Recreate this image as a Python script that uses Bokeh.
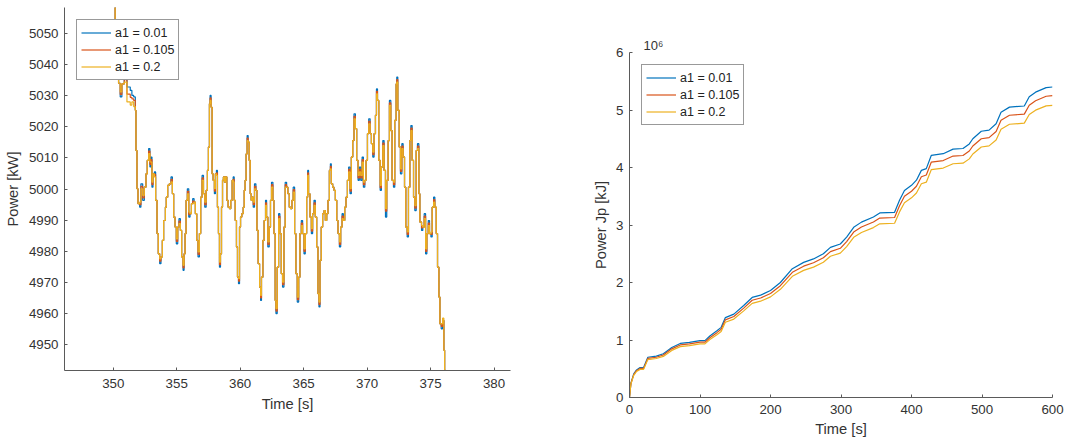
from bokeh.plotting import figure
from bokeh.layouts import row, column
from bokeh.models import Range1d, FixedTicker, Legend, LegendItem, Title
from bokeh.embed import file_html
from bokeh.resources import INLINE

# ---------------- Left panel: Power [kW] vs Time [s] ----------------
time_s = [
    350.05, 350.15, 350.30, 350.42, 350.55, 350.68, 350.87, 351.08, 351.34, 351.47,
    351.61, 351.74, 351.79, 351.87, 351.95, 352.08, 352.18, 352.32, 352.45, 352.58,
    352.68, 352.79, 352.89, 352.97, 353.05, 353.13, 353.24, 353.34, 353.45, 353.55,
    353.66, 353.76, 353.87, 353.97, 354.11, 354.18, 354.29, 354.42, 354.55, 354.66,
    354.76, 354.87, 354.97, 355.08, 355.18, 355.29, 355.39, 355.50, 355.58, 355.66,
    355.74, 355.84, 355.95, 356.05, 356.16, 356.26, 356.37, 356.47, 356.58, 356.68,
    356.79, 356.89, 357.00, 357.11, 357.21, 357.32, 357.42, 357.50, 357.58, 357.63,
    357.71, 357.79, 357.87, 357.97, 358.05, 358.13, 358.21, 358.29, 358.37, 358.45,
    358.53, 358.61, 358.68, 358.76, 358.84, 358.95, 359.05, 359.16, 359.26, 359.37,
    359.45, 359.53, 359.61, 359.71, 359.79, 359.87, 359.95, 360.03, 360.13, 360.24,
    360.32, 360.39, 360.47, 360.55, 360.63, 360.71, 360.79, 360.87, 360.95, 361.03,
    361.13, 361.24, 361.32, 361.42, 361.53, 361.61, 361.68, 361.79, 361.89, 362.00,
    362.08, 362.18, 362.29, 362.39, 362.47, 362.58, 362.66, 362.76, 362.82, 362.92,
    363.03, 363.13, 363.24, 363.34, 363.45, 363.55, 363.66, 363.76, 363.87, 363.97,
    364.08, 364.18, 364.29, 364.39, 364.50, 364.61, 364.71, 364.82, 364.92, 365.03,
    365.13, 365.24, 365.32, 365.39, 365.50, 365.61, 365.71, 365.82, 365.92, 366.03,
    366.13, 366.21, 366.29, 366.39, 366.50, 366.61, 366.71, 366.82, 366.92, 367.03,
    367.11, 367.18, 367.29, 367.39, 367.50, 367.61, 367.71, 367.82, 367.92, 368.03,
    368.13, 368.24, 368.34, 368.45, 368.55, 368.66, 368.76, 368.87, 368.97, 369.08,
    369.18, 369.29, 369.39, 369.50, 369.61, 369.71, 369.82, 369.92, 370.03, 370.13,
    370.24, 370.34, 370.45, 370.55, 370.66, 370.74, 370.82, 370.92, 371.03, 371.13,
    371.24, 371.34, 371.45, 371.55, 371.66, 371.76, 371.87, 371.97, 372.08, 372.18,
    372.29, 372.34, 372.42, 372.53, 372.63, 372.74, 372.84, 372.95, 373.05, 373.16,
    373.26, 373.37, 373.45, 373.55, 373.66, 373.76, 373.87, 373.97, 374.08, 374.16,
    374.29, 374.39, 374.50, 374.61, 374.71, 374.82, 374.92, 375.03, 375.13, 375.24,
    375.34, 375.45, 375.55, 375.66, 375.74, 375.84, 375.95, 376.05, 376.11, 376.15,
]

power_a1_001 = [
    5075, 5046, 5040, 5034, 5029.6, 5033.8, 5036.0, 5032.8, 5031.7, 5030.1,
    5029.6, 5025.3, 5012.4, 5000.1, 4995.3, 4994.2, 5001.7, 4996.4, 5000.6, 5004.9,
    5009.2, 5013.0, 5007.1, 5010.3, 5000.6, 5004.9, 5005.5, 4996.4, 4985.7, 4979.2,
    4976.0, 4978.2, 4983.5, 4989.9, 4994.2, 4997.4, 5001.2, 5001.7, 5003.9, 4998.5,
    4991.0, 4987.8, 4982.4, 4987.8, 4990.5, 4986.7, 4978.2, 4973.9, 4979.2, 4985.7,
    4996.4, 5000.1, 4991.0, 4992.1, 4995.3, 4996.9, 4995.8, 4992.1, 4983.5, 4978.2,
    4985.7, 4997.4, 5004.4, 4998.5, 4994.2, 4999.6, 5006.0, 5013.5, 5027.4, 5030.1,
    5026.3, 5004.9, 5002.8, 4998.5, 5004.9, 5006.0, 4994.2, 4985.7, 4974.9, 4979.2,
    4994.2, 5002.8, 5003.9, 5002.2, 5003.9, 4996.4, 4994.2, 4993.7, 4996.4, 5002.8,
    5003.9, 4996.4, 4989.9, 4981.4, 4971.7, 4969.6, 4987.8, 4991.0, 4992.1, 4994.2,
    4999.6, 5002.8, 5011.3, 5017.2, 5015.1, 5009.2, 4998.5, 4996.4, 4997.4, 4994.2,
    5001.7, 4999.6, 4986.7, 4976.0, 4968.5, 4964.2, 4971.7, 4983.5, 4989.9, 4996.4,
    4991.0, 4981.4, 4987.8, 4996.4, 5002.2, 4996.4, 4985.7, 4964.2, 4960.0, 4974.9,
    4992.1, 4985.7, 4972.8, 4968.5, 4987.8, 5002.2, 5000.6, 4998.5, 4994.2, 4993.7,
    4996.4, 5000.6, 4985.7, 4972.8, 4963.7, 4971.7, 4985.7, 4989.9, 4985.7, 4979.2,
    4985.7, 4997.4, 5006.0, 4998.5, 4991.0, 4985.7, 4992.1, 4996.4, 4991.0, 4981.4,
    4966.4, 4962.1, 4977.1, 4987.8, 4992.1, 4993.1, 4989.9, 4992.1, 4996.4, 5006.0,
    5008.1, 5001.7, 5000.6, 4999.6, 4996.4, 4989.9, 4985.7, 4981.4, 4987.8, 4992.1,
    4989.9, 4994.2, 4997.4, 5002.8, 5007.1, 4998.5, 5010.3, 5015.6, 5024.2, 5019.4,
    5009.2, 5002.8, 5007.1, 5002.8, 5010.3, 5000.6, 5002.8, 5009.2, 5017.8, 5022.6,
    5017.8, 5014.6, 5010.3, 5017.8, 5023.7, 5032.2, 5028.5, 5009.2, 4999.6, 5007.1,
    5015.6, 5006.0, 4991.0, 5002.8, 5015.6, 5028.5, 5018.8, 5002.8, 5000.6, 5022.1,
    5033.8, 5036.0, 5025.3, 5013.5, 5004.9, 5014.6, 5010.3, 5000.6, 4987.8, 4984.6,
    5000.6, 5015.6, 5020.4, 5009.2, 4997.4, 4993.1, 5012.4, 5014.6, 4998.5, 4989.4,
    4986.7, 4987.8, 4992.1, 4979.2, 4985.7, 4989.9, 4985.7, 4984.6, 4994.2, 4997.4,
    4994.2, 4985.7, 4974.9, 4965.3, 4956.7, 4955.1, 4957.8, 4948.2, 4941.8, 4930,
]

power_a1_0105 = [
    5075, 5046, 5040, 5034, 5030.4, 5033.8, 5035.2, 5030.5, 5029.5, 5029.0,
    5028.5, 5025.3, 5012.4, 5000.1, 4995.3, 4995.0, 5000.9, 4997.2, 5000.6, 5004.9,
    5009.2, 5012.2, 5007.9, 5009.5, 5001.4, 5004.9, 5004.7, 4996.4, 4985.7, 4979.2,
    4976.8, 4978.2, 4983.5, 4989.9, 4994.2, 4997.4, 5001.2, 5001.7, 5003.1, 4998.5,
    4991.0, 4987.8, 4983.2, 4987.8, 4989.7, 4986.7, 4978.2, 4974.7, 4979.2, 4985.7,
    4996.4, 4999.3, 4991.8, 4992.1, 4995.3, 4996.1, 4995.8, 4992.1, 4983.5, 4979.0,
    4985.7, 4997.4, 5003.6, 4998.5, 4995.0, 4999.6, 5006.0, 5013.5, 5027.4, 5029.3,
    5026.3, 5004.9, 5002.8, 4999.3, 5004.9, 5005.2, 4994.2, 4985.7, 4975.7, 4979.2,
    4994.2, 5002.8, 5003.9, 5002.2, 5003.9, 4996.4, 4994.2, 4993.7, 4996.4, 5002.8,
    5003.1, 4996.4, 4989.9, 4981.4, 4971.7, 4970.4, 4987.8, 4991.0, 4992.1, 4994.2,
    4999.6, 5002.8, 5011.3, 5016.4, 5015.1, 5009.2, 4998.5, 4996.4, 4997.4, 4995.0,
    5000.9, 4999.6, 4986.7, 4976.0, 4968.5, 4965.0, 4971.7, 4983.5, 4989.9, 4995.6,
    4991.0, 4982.2, 4987.8, 4996.4, 5001.4, 4996.4, 4985.7, 4964.2, 4960.8, 4974.9,
    4991.3, 4985.7, 4972.8, 4969.3, 4987.8, 5001.4, 5000.6, 4998.5, 4994.2, 4993.7,
    4996.4, 4999.8, 4985.7, 4972.8, 4964.5, 4971.7, 4985.7, 4989.1, 4985.7, 4980.0,
    4985.7, 4997.4, 5005.2, 4998.5, 4991.0, 4986.5, 4992.1, 4995.6, 4991.0, 4981.4,
    4966.4, 4962.9, 4977.1, 4987.8, 4992.1, 4993.1, 4989.9, 4992.1, 4996.4, 5006.0,
    5007.3, 5001.7, 5000.6, 4999.6, 4996.4, 4989.9, 4985.7, 4982.2, 4987.8, 4991.3,
    4989.9, 4994.2, 4997.4, 5002.8, 5006.3, 4999.3, 5010.3, 5015.6, 5023.4, 5019.4,
    5009.2, 5003.6, 5006.3, 5003.6, 5009.5, 5001.4, 5002.8, 5009.2, 5017.8, 5021.8,
    5017.8, 5014.6, 5011.1, 5017.8, 5023.7, 5031.4, 5028.5, 5009.2, 5000.4, 5007.1,
    5014.8, 5006.0, 4992.9, 5002.8, 5015.6, 5027.7, 5018.8, 5002.8, 5001.4, 5022.1,
    5033.8, 5035.2, 5025.3, 5013.5, 5005.7, 5013.8, 5010.3, 5000.6, 4987.8, 4985.4,
    5000.6, 5015.6, 5019.6, 5009.2, 4997.4, 4993.9, 5012.4, 5013.8, 4998.5, 4989.4,
    4987.5, 4987.8, 4991.3, 4980.0, 4985.7, 4989.1, 4985.7, 4985.4, 4994.2, 4996.6,
    4994.2, 4985.7, 4974.9, 4965.3, 4956.7, 4955.9, 4957.8, 4948.2, 4941.8, 4930,
]

power_a1_02 = [
    5075, 5046, 5040, 5034, 5031.2, 5033.8, 5034.4, 5028.0, 5027.0, 5028.0,
    5026.5, 5025.3, 5012.4, 5000.1, 4995.3, 4995.8, 5000.1, 4998.0, 5000.6, 5004.9,
    5009.2, 5011.4, 5008.7, 5008.7, 5002.2, 5004.9, 5003.9, 4996.4, 4985.7, 4979.2,
    4977.6, 4978.2, 4983.5, 4989.9, 4994.2, 4997.4, 5001.2, 5001.7, 5002.3, 4998.5,
    4991.0, 4987.8, 4984.0, 4987.8, 4988.9, 4986.7, 4978.2, 4975.5, 4979.2, 4985.7,
    4996.4, 4998.5, 4992.6, 4992.1, 4995.3, 4995.3, 4995.8, 4992.1, 4983.5, 4979.8,
    4985.7, 4997.4, 5002.8, 4998.5, 4995.8, 4999.6, 5006.0, 5013.5, 5027.4, 5028.5,
    5026.3, 5004.9, 5002.8, 5000.1, 5004.9, 5004.4, 4994.2, 4985.7, 4976.5, 4979.2,
    4994.2, 5002.8, 5003.9, 5002.2, 5003.9, 4996.4, 4994.2, 4993.7, 4996.4, 5002.8,
    5002.3, 4996.4, 4989.9, 4981.4, 4971.7, 4971.2, 4987.8, 4991.0, 4992.1, 4994.2,
    4999.6, 5002.8, 5011.3, 5015.6, 5015.1, 5009.2, 4998.5, 4996.4, 4997.4, 4995.8,
    5000.1, 4999.6, 4986.7, 4976.0, 4968.5, 4965.8, 4971.7, 4983.5, 4989.9, 4994.8,
    4991.0, 4983.0, 4987.8, 4996.4, 5000.6, 4996.4, 4985.7, 4964.2, 4961.6, 4974.9,
    4990.5, 4985.7, 4972.8, 4970.1, 4987.8, 5000.6, 5000.6, 4998.5, 4994.2, 4993.7,
    4996.4, 4999.0, 4985.7, 4972.8, 4965.3, 4971.7, 4985.7, 4988.3, 4985.7, 4980.8,
    4985.7, 4997.4, 5004.4, 4998.5, 4991.0, 4987.3, 4992.1, 4994.8, 4991.0, 4981.4,
    4966.4, 4963.7, 4977.1, 4987.8, 4992.1, 4993.1, 4989.9, 4992.1, 4996.4, 5006.0,
    5006.5, 5001.7, 5000.6, 4999.6, 4996.4, 4989.9, 4985.7, 4983.0, 4987.8, 4990.5,
    4989.9, 4994.2, 4997.4, 5002.8, 5005.5, 5000.1, 5010.3, 5015.6, 5022.6, 5019.4,
    5009.2, 5004.4, 5005.5, 5004.4, 5008.7, 5002.2, 5002.8, 5009.2, 5017.8, 5021.0,
    5017.8, 5014.6, 5011.9, 5017.8, 5023.7, 5030.6, 5028.5, 5009.2, 5001.2, 5007.1,
    5014.0, 5006.0, 4993.7, 5002.8, 5015.6, 5026.9, 5018.8, 5002.8, 5002.2, 5022.1,
    5033.8, 5034.4, 5025.3, 5013.5, 5006.5, 5013.0, 5010.3, 5000.6, 4987.8, 4986.2,
    5000.6, 5015.6, 5018.8, 5009.2, 4997.4, 4994.7, 5012.4, 5013.0, 4998.5, 4989.4,
    4988.3, 4987.8, 4990.5, 4980.8, 4985.7, 4988.3, 4985.7, 4986.2, 4994.2, 4995.8,
    4994.2, 4985.7, 4974.9, 4965.3, 4956.7, 4956.7, 4958.5, 4948.2, 4941.8, 4930,
]

# ---------------- Right panel: Power Jp [kJ] (x 10^6) vs Time [s] ----------------
time_j = [
    0, 2, 6, 10, 15, 20, 26, 38, 48, 60,
    72, 85, 100, 107, 114, 124, 130, 136, 148, 162,
    174, 186, 200, 214, 231, 247, 261, 275, 285, 299,
    308, 318, 329, 346, 355, 376, 383, 390, 400, 407,
    414, 421, 428, 445, 459, 473, 482, 487, 499, 510,
    520, 527, 539, 560, 567, 576, 591, 600,
]
jp_a1_001 = [
    0, 0.25, 0.41, 0.48, 0.52, 0.52, 0.70, 0.72, 0.76, 0.87,
    0.94, 0.96, 0.99, 0.99, 1.07, 1.16, 1.22, 1.39, 1.45, 1.60,
    1.74, 1.78, 1.86, 2.00, 2.24, 2.35, 2.41, 2.50, 2.61, 2.67,
    2.79, 2.96, 3.05, 3.14, 3.21, 3.22, 3.43, 3.60, 3.69, 3.78,
    3.95, 3.98, 4.21, 4.24, 4.32, 4.33, 4.41, 4.50, 4.63, 4.65,
    4.76, 4.96, 5.05, 5.07, 5.23, 5.31, 5.39, 5.40,
]
jp_a1_0105 = [
    0, 0.243, 0.399, 0.467, 0.505, 0.505, 0.680, 0.700, 0.739, 0.846,
    0.914, 0.933, 0.962, 0.962, 1.040, 1.128, 1.186, 1.351, 1.409, 1.555,
    1.691, 1.730, 1.808, 1.944, 2.177, 2.284, 2.343, 2.430, 2.537, 2.595,
    2.712, 2.877, 2.965, 3.052, 3.120, 3.130, 3.334, 3.499, 3.587, 3.674,
    3.839, 3.869, 4.092, 4.121, 4.199, 4.209, 4.287, 4.374, 4.500, 4.520,
    4.627, 4.821, 4.909, 4.928, 5.084, 5.161, 5.239, 5.249,
]
jp_a1_02 = [
    0, 0.235, 0.386, 0.452, 0.489, 0.489, 0.659, 0.678, 0.715, 0.819,
    0.885, 0.903, 0.932, 0.932, 1.007, 1.092, 1.148, 1.308, 1.364, 1.506,
    1.637, 1.675, 1.750, 1.882, 2.108, 2.211, 2.268, 2.353, 2.456, 2.512,
    2.625, 2.785, 2.870, 2.955, 3.021, 3.030, 3.228, 3.388, 3.472, 3.557,
    3.717, 3.745, 3.962, 3.990, 4.065, 4.075, 4.150, 4.235, 4.357, 4.376,
    4.479, 4.667, 4.752, 4.771, 4.921, 4.997, 5.072, 5.081,
]

series_labels = ["a1 = 0.01", "a1 = 0.105", "a1 = 0.2"]
series_colors = ["#0072BD", "#D95319", "#EDB120"]

left_xticks = [350, 355, 360, 365, 370, 375, 380]
left_yticks = [4950, 4960, 4970, 4980, 4990, 5000, 5010, 5020, 5030, 5040, 5050]
right_xticks = [0, 100, 200, 300, 400, 500, 600]
right_yticks = [0, 1, 2, 3, 4, 5, 6]

FONT = "Liberation Sans"
TXT = "#333333"
AX = "#5a5a5a"


def style_axes(p):
    for ax in (p.xaxis[0], p.yaxis[0]):
        ax.axis_line_color = AX
        ax.axis_line_width = 1
        ax.major_tick_line_color = AX
        ax.major_tick_in = 3
        ax.major_tick_out = 0
        ax.minor_tick_line_color = None
        ax.major_label_text_font = FONT
        ax.major_label_text_font_size = "13.3px"
        ax.major_label_text_color = TXT
        ax.axis_label_text_font = FONT
        ax.axis_label_text_font_size = "14.7px"
        ax.axis_label_text_font_style = "normal"
        ax.axis_label_text_color = TXT
    p.xgrid.visible = False
    p.ygrid.visible = False
    p.outline_line_color = None
    p.background_fill_color = "white"
    p.border_fill_color = "white"


def make_legend(renderers):
    items = [LegendItem(label=lab, renderers=[r]) for lab, r in zip(series_labels, renderers)]
    return Legend(
        items=items, location="top_left", margin=12, padding=4, spacing=0,
        glyph_width=30, glyph_height=17, label_height=17, label_standoff=4,
        label_text_font=FONT, label_text_font_size="12.5px", label_text_color="#222222",
        border_line_color="#333333", border_line_width=1,
        background_fill_color="white", background_fill_alpha=1.0,
    )


# Left figure
p1 = figure(
    width=568, height=442,
    x_range=Range1d(346.16, 381.3), y_range=Range1d(4941.7, 5058.35),
    output_backend="svg", toolbar_location=None,
    min_border_left=64, min_border_right=58, min_border_top=7, min_border_bottom=72,
)
style_axes(p1)
p1.xaxis.ticker = FixedTicker(ticks=left_xticks)
p1.yaxis.ticker = FixedTicker(ticks=left_yticks)
p1.xaxis.axis_label = "Time [s]"
p1.yaxis.axis_label = "Power [kW]"
p1.xaxis.major_label_standoff = 8
p1.xaxis.axis_label_standoff = 5
p1.yaxis.major_label_standoff = 6
p1.yaxis.axis_label_standoff = 5

r_left = []
for ys, c in zip([power_a1_001, power_a1_0105, power_a1_02], series_colors):
    r_left.append(p1.step(time_s, ys, mode="after", line_color=c, line_width=1.2))
p1.add_layout(make_legend(r_left))

# Right figure
p2 = figure(
    width=508, height=442,
    x_range=Range1d(0, 600), y_range=Range1d(0, 6),
    output_backend="svg", toolbar_location=None,
    min_border_left=61, min_border_right=24, min_border_top=52, min_border_bottom=45,
)
style_axes(p2)
p2.xaxis.ticker = FixedTicker(ticks=right_xticks)
p2.yaxis.ticker = FixedTicker(ticks=right_yticks)
p2.xaxis.axis_label = "Time [s]"
p2.yaxis.axis_label = "Power Jp [kJ]"
p2.xaxis.major_label_standoff = 7
p2.xaxis.axis_label_standoff = 4
p2.yaxis.major_label_standoff = 6
p2.yaxis.axis_label_standoff = 4

r_right = []
for ys, c in zip([jp_a1_001, jp_a1_0105, jp_a1_02], series_colors):
    r_right.append(p2.line(time_j, ys, line_color=c, line_width=1.2))
p2.add_layout(make_legend(r_right))

# axis multiplier shown above the y axis
p2.add_layout(Title(text="10\u2076", align="left", offset=14, standoff=0,
                    text_font=FONT, text_font_size="13px", text_font_style="normal",
                    text_color=TXT), "above")

layout = row(column(p1), column(p2))
open("out.html", "w").write(file_html(layout, INLINE))
